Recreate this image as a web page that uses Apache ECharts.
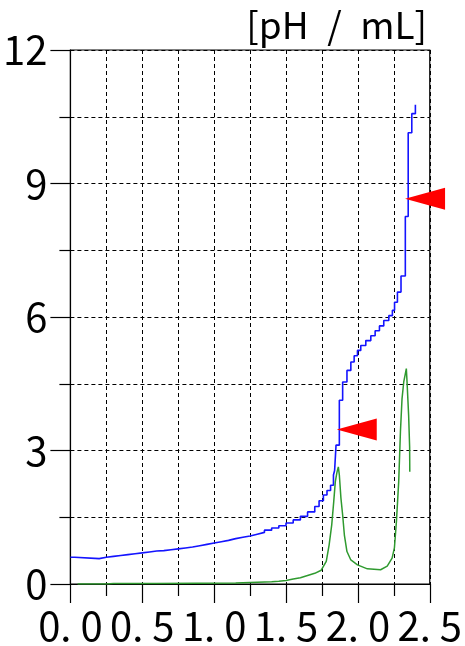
<!DOCTYPE html>
<html>
<head>
<meta charset="utf-8">
<script src="https://cdn.jsdelivr.net/npm/echarts@6/dist/echarts.min.js"></script>
<style>
html,body{margin:0;padding:0;background:#fff;}
#chart{width:465px;height:646px;}
</style>
</head>
<body>
<div id="chart"></div>
<script>
// Titration curve (pH), step levels starting at each volume (mL)
var blueX = [0, 0.03, 0.2, 0.25, 0.3, 0.35, 0.4, 0.45, 0.5, 0.55, 0.6, 0.65, 0.7, 0.75, 0.8, 0.85, 0.9, 0.95, 1.0, 1.05, 1.1, 1.15, 1.2, 1.25, 1.3, 1.35, 1.4, 1.45, 1.5, 1.55, 1.6, 1.65, 1.7, 1.73, 1.76, 1.785, 1.81, 1.83, 1.838, 1.848, 1.871, 1.894, 1.924, 1.951, 1.974, 1.997, 2.02, 2.055, 2.09, 2.12, 2.15, 2.18, 2.215, 2.24, 2.255, 2.275, 2.30, 2.33, 2.35, 2.375, 2.40];
var bluePH = [0.60, 0.57, 0.60, 0.62, 0.64, 0.66, 0.68, 0.70, 0.72, 0.74, 0.75, 0.77, 0.79, 0.81, 0.83, 0.86, 0.89, 0.92, 0.95, 0.98, 1.02, 1.05, 1.08, 1.12, 1.16, 1.21, 1.26, 1.31, 1.37, 1.44, 1.52, 1.62, 1.74, 1.87, 2.00, 2.10, 2.22, 2.45, 2.55, 3.12, 4.13, 4.54, 4.80, 4.99, 5.13, 5.25, 5.36, 5.47, 5.58, 5.69, 5.80, 5.92, 6.03, 6.15, 6.33, 6.56, 6.92, 8.26, 10.14, 10.57, 10.77];

// Derivative curve (dpH/dmL)
var greenX = [0.05, 0.25, 0.3, 0.6, 1.15, 1.2, 1.3, 1.4, 1.45, 1.5, 1.55, 1.6, 1.65, 1.7, 1.745, 1.78, 1.80, 1.818, 1.832, 1.843, 1.855, 1.864, 1.871, 1.882, 1.894, 1.906, 1.924, 1.951, 1.997, 2.066, 2.158, 2.204, 2.238, 2.254, 2.268, 2.284, 2.296, 2.307, 2.319, 2.330, 2.337, 2.342, 2.353, 2.360, 2.361];
var greenD = [0.0, 0.0, 0.01, 0.01, 0.02, 0.03, 0.04, 0.05, 0.06, 0.08, 0.11, 0.14, 0.19, 0.24, 0.31, 0.51, 0.88, 1.33, 1.85, 2.30, 2.52, 2.63, 2.45, 1.93, 1.55, 1.10, 0.73, 0.54, 0.43, 0.34, 0.32, 0.40, 0.58, 0.81, 1.40, 2.30, 3.42, 4.16, 4.54, 4.72, 4.84, 4.54, 3.79, 3.08, 2.52];

// Equivalence point markers
var markerX = [1.853, 2.328];
var markerPH = [3.47, 8.66];

var yTickLabels = ['0', '3', '6', '9', '12'];
var unitLabel = '[pH\u2002/\u2002mL]';

function zip(a, b) { return a.map(function (v, i) { return [v, b[i]]; }); }

var FONT = '"Noto Sans CJK JP", "Noto Sans", sans-serif';
var chart = echarts.init(document.getElementById('chart'), null, { renderer: 'canvas' });
var dashed = { show: true, lineStyle: { color: '#000', width: 1, type: [4, 3] } };

chart.setOption({
  animation: false,
  backgroundColor: '#fff',
  grid: { left: 70, right: 32, top: 50, bottom: 60, show: true, borderColor: '#000', borderWidth: 1.2, backgroundColor: 'transparent' },
  xAxis: {
    type: 'value', min: 0, max: 2.5, interval: 0.5,
    axisLine: { show: true, onZero: false, lineStyle: { color: '#000', width: 1.2 } },
    axisTick: { show: true, length: 19, lineStyle: { color: '#000', width: 1.2 } },
    minorTick: { show: true, splitNumber: 2, length: 12, lineStyle: { color: '#000', width: 1.2 } },
    splitLine: dashed,
    minorSplitLine: dashed,
    axisLabel: {
      margin: 22, color: '#000', fontFamily: FONT, fontSize: 40,
      formatter: function (v) { return v.toFixed(1).replace('.', '. '); }
    }
  },
  yAxis: {
    type: 'value', min: 0, max: 12, interval: 3,
    axisLine: { show: true, onZero: false, lineStyle: { color: '#000', width: 1.2 } },
    axisTick: { show: true, length: 20, lineStyle: { color: '#000', width: 1.2 } },
    minorTick: { show: true, splitNumber: 2, length: 11, lineStyle: { color: '#000', width: 1.2 } },
    splitLine: dashed,
    minorSplitLine: dashed,
    axisLabel: {
      margin: 23, color: '#000', fontFamily: FONT, fontSize: 40,
      formatter: function (v) { return yTickLabels[Math.round(v / 3)]; }
    }
  },
  graphic: [{
    type: 'text', right: 38, top: 6, z: 100,
    style: { text: unitLabel, fill: '#000', font: '37px ' + FONT }
  }],
  series: [
    {
      type: 'line', step: 'end', data: zip(blueX, bluePH), showSymbol: false, symbol: 'none',
      lineStyle: { color: '#1414ff', width: 1.6 }, z: 3
    },
    {
      type: 'line', data: zip(greenX, greenD), showSymbol: false, symbol: 'none',
      lineStyle: { color: '#2f9a2f', width: 1.5 }, z: 4
    },
    {
      type: 'scatter', data: zip(markerX, markerPH), clip: false,
      symbol: 'path://M0,11 L40,0 L40,22 Z', symbolSize: [40, 22], symbolOffset: [20, 0],
      itemStyle: { color: '#ff0000', opacity: 1 }, z: 10
    }
  ]
});
</script>
</body>
</html>
